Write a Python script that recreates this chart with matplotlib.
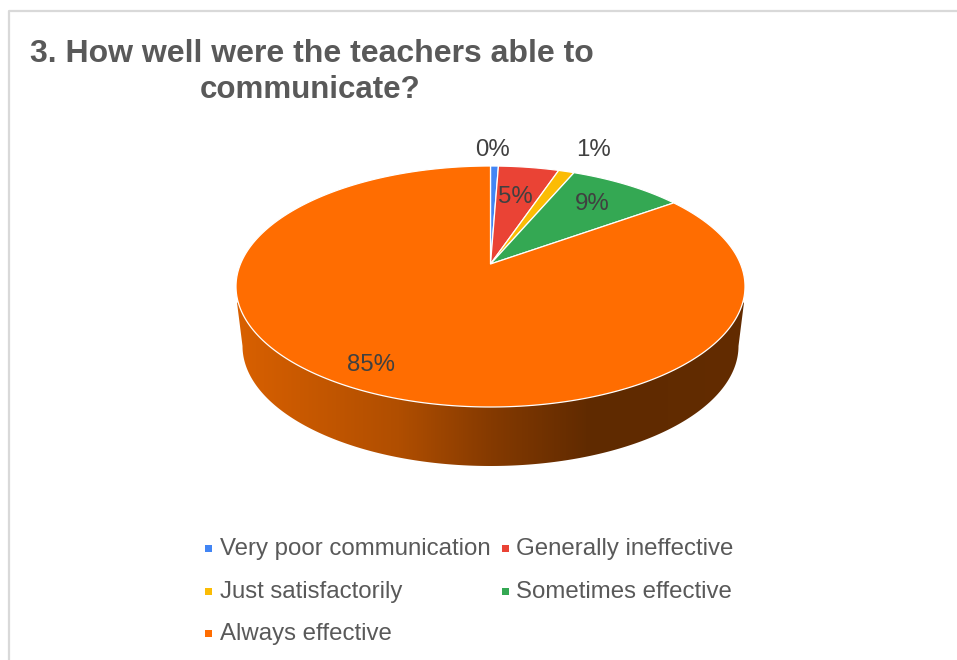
import numpy as np
import matplotlib
matplotlib.use("Agg")
import matplotlib.pyplot as plt
from matplotlib.colors import LinearSegmentedColormap
from matplotlib.patches import Polygon, Rectangle

plt.rcParams['font.family'] = ['Liberation Sans', 'DejaVu Sans']

categories = ["Very poor communication", "Generally ineffective", "Just satisfactorily",
              "Sometimes effective", "Always effective"]
values = [0.6, 4.6, 1.2, 8.7, 84.9]
labels = ["0%", "5%", "1%", "9%", "85%"]
colors = ["#4285f4", "#ea4335", "#fbbc04", "#34a853", "#ff6d01"]

label_pos = [(493, 150), (515, 197), (593, 150), (592, 204), (371, 365)]
legend_pos = [(208, 548), (505, 548), (208, 591), (505, 591), (208, 633)]
legend_text_x = [220, 516, 220, 516, 220]

# top of the pie, in pixels
cx, cy, rx, ry = 490.5, 286.5, 254.5, 120.5
apex_lift = 22.5
depth = 59.5


def to_pixels(frac):
    """Angle on the round pie -> pixel on the tilted ellipse (perspective)."""
    ang = 2 * np.pi * np.asarray(frac)
    u, v = np.sin(ang), np.cos(ang)
    k = apex_lift / ry
    w = 1 + k * v
    return cx + rx * np.sqrt(1 - k ** 2) * u / w, cy - ry * (v + k) / w


fig, ax = plt.subplots(figsize=(9.57, 6.60), dpi=100)
fig.subplots_adjust(0, 0, 1, 1)

# side of the pie with the shading running left to right
t = np.linspace(0, np.pi, 200)
side_x = np.concatenate([[cx - rx + 1], cx - 248 * np.cos(t), [cx + rx - 1]])
side_y = np.concatenate([[cy + 16], cy + depth + 120 * np.sin(t), [cy + 16]])
shade = LinearSegmentedColormap.from_list("shade", [
    (0.0, "#d96000"), (0.32, "#b04e00"), (0.5, "#853a00"), (0.7, "#5f2a00"), (1.0, "#632c00")])
img = ax.imshow(np.linspace(0, 1, 512)[None, :], cmap=shade, aspect="auto",
                extent=(cx - rx, cx + rx, cy + depth + 125, cy - 10), zorder=1)
clip = Polygon(np.column_stack([side_x, side_y]), transform=ax.transData, fc="none", ec="none")
ax.add_patch(clip)
img.set_clip_path(clip)

# slices
edges = np.concatenate([[0], np.cumsum(values)]) / np.sum(values)
for i, c in enumerate(colors):
    f = np.linspace(edges[i], edges[i + 1], max(3, int(400 * (edges[i + 1] - edges[i]))))
    x, y = to_pixels(f)
    ax.fill(np.r_[cx, x], np.r_[cy - apex_lift, y], facecolor=c, edgecolor="white",
            linewidth=0.9, joinstyle="round", zorder=2)

for (lx, ly), s in zip(label_pos, labels):
    ax.text(lx, ly, s, fontsize=17.3, color="#404040", ha="center", va="center", zorder=3)

# legend
for (lx, ly), tx, name, c in zip(legend_pos, legend_text_x, categories, colors):
    ax.add_patch(Rectangle((lx - 3.5, ly - 3.5), 7, 7, fc=c, ec="none"))
    ax.text(tx, ly + 1, name, fontsize=17.3, color="#595959", ha="left", va="center")

# title
ax.text(311.5, 54, "3. How well were the teachers able to", fontsize=23, fontweight="bold",
        color="#595959", ha="center", va="center")
ax.text(310, 90, "communicate?", fontsize=22.5, fontweight="bold",
        color="#595959", ha="center", va="center")

# chart frame, runs off the right and bottom of the image
ax.plot([958, 8.5, 8.5], [11, 11, 661], color="#d9d9d9", linewidth=1.6, zorder=4)

ax.set_xlim(0, 957)
ax.set_ylim(660, 0)
ax.axis("off")

fig.savefig("out.png", dpi=100)
